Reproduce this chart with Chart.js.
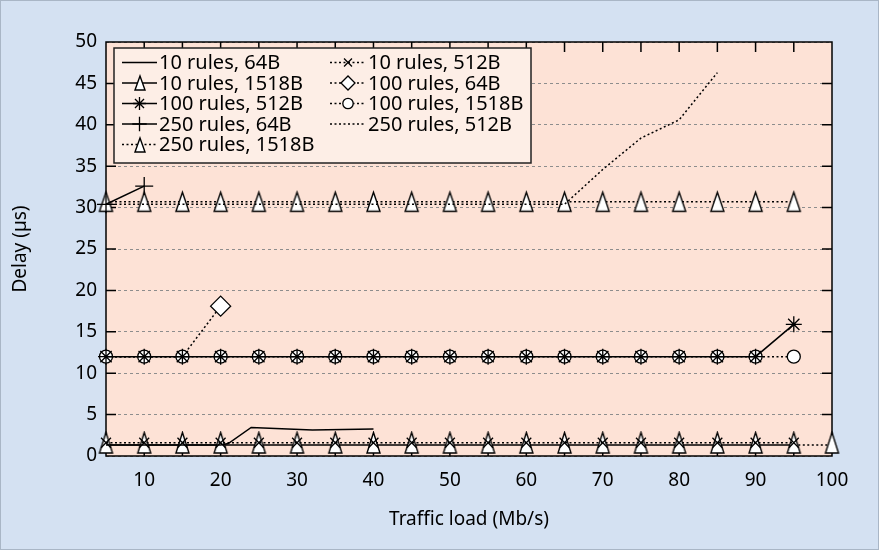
<!DOCTYPE html>
<html>
<head>
<meta charset="utf-8">
<script src="https://cdn.jsdelivr.net/npm/chart.js@4/dist/chart.umd.min.js"></script>
<style>
  html, body { margin: 0; padding: 0; background: #d4e1f2; }
  #wrap { width: 879px; height: 550px; }
</style>
</head>
<body>
<div id="wrap"><canvas id="c" width="879" height="550"></canvas></div>
<script>
// Traffic load (Mb/s) sample points
const loadSteps = [5, 10, 15, 20, 25, 30, 35, 40, 45, 50, 55, 60, 65, 70, 75, 80, 85, 90, 95];
const loadSteps100 = [5, 10, 15, 20, 25, 30, 35, 40, 45, 50, 55, 60, 65, 70, 75, 80, 85, 90, 95, 100];
const load10r64 = [5, 10, 15, 20, 21, 24, 32, 40];
const load100r64 = [5, 10, 15, 20];
const load250r64 = [5, 10];
const load250r512 = [5, 10, 15, 20, 25, 30, 35, 40, 45, 50, 55, 60, 65, 70, 75, 80, 85];

// Delay (µs) per series
const delay10r64 = [1.33, 1.33, 1.33, 1.33, 1.5, 3.45, 3.15, 3.25];
const delay10r512 = [1.6, 1.6, 1.6, 1.6, 1.6, 1.6, 1.6, 1.6, 1.6, 1.6, 1.6, 1.6, 1.6, 1.6, 1.6, 1.6, 1.6, 1.6, 1.6];
const delay10r1518 = [1.33, 1.33, 1.33, 1.33, 1.33, 1.33, 1.33, 1.33, 1.33, 1.33, 1.33, 1.33, 1.33, 1.33, 1.33, 1.33, 1.33, 1.33, 1.33, 1.33];
const delay100r64 = [12.0, 12.0, 12.0, 18.1];
const delay100r512 = [12.0, 12.0, 12.0, 12.0, 12.0, 12.0, 12.0, 12.0, 12.0, 12.0, 12.0, 12.0, 12.0, 12.0, 12.0, 12.0, 12.0, 12.0, 15.9];
const delay100r1518 = [12.0, 12.0, 12.0, 12.0, 12.0, 12.0, 12.0, 12.0, 12.0, 12.0, 12.0, 12.0, 12.0, 12.0, 12.0, 12.0, 12.0, 12.0, 12.0];
const delay250r64 = [30.4, 32.6];
const delay250r512 = [30.4, 30.4, 30.4, 30.4, 30.4, 30.4, 30.4, 30.4, 30.4, 30.4, 30.4, 30.4, 30.4, 34.6, 38.4, 40.6, 46.3];
const delay250r1518 = [30.7, 30.7, 30.7, 30.7, 30.7, 30.7, 30.7, 30.7, 30.7, 30.7, 30.7, 30.7, 30.7, 30.7, 30.7, 30.7, 30.7, 30.7, 30.7];

const seriesNames = [
  '10 rules, 64B', '10 rules, 512B', '10 rules, 1518B',
  '100 rules, 64B', '100 rules, 512B', '100 rules, 1518B',
  '250 rules, 64B', '250 rules, 512B', '250 rules, 1518B'
];
const yTicks = [0, 5, 10, 15, 20, 25, 30, 35, 40, 45, 50];
const xTickLabels = [10, 20, 30, 40, 50, 60, 70, 80, 90, 100];

const FONT = '"Noto Sans", "DejaVu Sans", sans-serif';
const DOTS = [2, 2.5];

function pairs(xs, ys) { return xs.map((x, i) => ({ x: x, y: ys[i] })); }

// Open triangle marker, drawn once and reused as an image point style
function triangleMarker(canvasW, canvasH, apex, base, halfW) {
  const c = document.createElement('canvas');
  c.width = canvasW; c.height = canvasH;
  const g = c.getContext('2d');
  const cx = canvasW / 2;
  g.beginPath();
  g.moveTo(cx, apex);
  g.lineTo(cx + halfW, base);
  g.lineTo(cx - halfW, base);
  g.closePath();
  g.fillStyle = '#ffffff';
  g.fill();
  g.lineWidth = 1.4;
  g.strokeStyle = '#000000';
  g.stroke();
  return c;
}
const triCentered = triangleMarker(17, 24, 2.5, 21.5, 6.5);
const triRaised = triangleMarker(17, 28, 1.5, 22, 6.5);
const triKey = triangleMarker(14, 18, 2, 16, 5);

function series(label, data, opts) {
  return Object.assign({
    label: label,
    data: data,
    borderColor: '#000',
    borderWidth: 1.5,
    tension: 0,
    fill: false,
    clip: false,
    pointRadius: 0,
    pointBackgroundColor: '#fff',
    pointBorderColor: '#000',
    pointBorderWidth: 1.3
  }, opts || {});
}

const datasets = [
  series(seriesNames[0], pairs(load10r64, delay10r64), { pointRadius: 0 }),
  series(seriesNames[1], pairs(loadSteps, delay10r512), { borderDash: DOTS, pointStyle: 'crossRot', pointRadius: 7 }),
  series(seriesNames[2], pairs(loadSteps100, delay10r1518), {
    pointStyle: triRaised, pointRadius: 8, keyMarker: triKey,
    segment: { borderDash: (ctx) => ctx.p1DataIndex === loadSteps100.length - 1 ? DOTS : undefined }
  }),
  series(seriesNames[3], pairs(load100r64, delay100r64), {
    borderDash: DOTS, pointStyle: 'rectRot', order: 10, keyRadius: 7,
    // the diamond only shows where it leaves the shared 12 µs row
    pointRadius: (ctx) => ctx.dataIndex === load100r64.length - 1 ? 10 : 0
  }),
  series(seriesNames[4], pairs(loadSteps, delay100r512), { pointStyle: 'star', pointRadius: 8 }),
  series(seriesNames[5], pairs(loadSteps, delay100r1518), { borderDash: DOTS, pointStyle: 'circle', pointRadius: 6.5 }),
  series(seriesNames[6], pairs(load250r64, delay250r64), { pointStyle: 'cross', pointRadius: 9 }),
  series(seriesNames[7], pairs(load250r512, delay250r512), { borderDash: DOTS, pointRadius: 0 }),
  series(seriesNames[8], pairs(loadSteps, delay250r1518), { borderDash: DOTS, pointStyle: triCentered, pointRadius: 8, keyMarker: triKey })
];

// Backgrounds, plot frame and inward tick marks
const framePlugin = {
  id: 'framePlugin',
  beforeDraw(chart) {
    const { ctx, chartArea: a } = chart;
    ctx.save();
    ctx.fillStyle = '#d4e1f2';
    ctx.fillRect(0, 0, chart.width, chart.height);
    ctx.strokeStyle = '#a9b6c6';
    ctx.lineWidth = 1;
    ctx.strokeRect(0.5, 0.5, chart.width - 1, chart.height - 1);
    ctx.fillStyle = '#fde2d6';
    ctx.fillRect(a.left, a.top, a.right - a.left, a.bottom - a.top);
    ctx.restore();
  },
  beforeDatasetsDraw(chart) {
    const { ctx, chartArea: a, scales } = chart;
    const len = 10;
    ctx.save();
    ctx.strokeStyle = '#000';
    ctx.lineWidth = 1.5;
    ctx.beginPath();
    scales.x.ticks.forEach(t => {
      const px = scales.x.getPixelForValue(t.value);
      if (px <= a.left + 1 || px >= a.right - 1) return;
      ctx.moveTo(px, a.bottom); ctx.lineTo(px, a.bottom - len);
      ctx.moveTo(px, a.top); ctx.lineTo(px, a.top + len);
    });
    scales.y.ticks.forEach(t => {
      const py = scales.y.getPixelForValue(t.value);
      if (py <= a.top + 1 || py >= a.bottom - 1) return;
      ctx.moveTo(a.left, py); ctx.lineTo(a.left + len, py);
      ctx.moveTo(a.right, py); ctx.lineTo(a.right - len, py);
    });
    ctx.stroke();
    ctx.strokeRect(a.left, a.top, a.right - a.left, a.bottom - a.top);
    ctx.restore();
  }
};

// Two-column key with line samples and markers
const keyPlugin = {
  id: 'keyPlugin',
  afterDraw(chart) {
    const ctx = chart.ctx;
    const box = { x: 114, y: 48, w: 417, h: 115 };
    ctx.save();
    ctx.fillStyle = '#fdeee6';
    ctx.fillRect(box.x, box.y, box.w, box.h);
    ctx.strokeStyle = '#222';
    ctx.lineWidth = 1.5;
    ctx.strokeRect(box.x, box.y, box.w, box.h);
    ctx.font = '20px ' + FONT;
    ctx.textBaseline = 'middle';
    ctx.textAlign = 'left';
    chart.data.datasets.forEach((ds, i) => {
      const col = i % 2, row = Math.floor(i / 2);
      const y = 62.5 + row * 20.5;
      const x0 = col ? 330 : 122, x1 = col ? 366 : 157;
      ctx.strokeStyle = '#000';
      ctx.lineWidth = 1.5;
      ctx.setLineDash(ds.borderDash || []);
      ctx.beginPath();
      ctx.moveTo(x0, y); ctx.lineTo(x1, y);
      ctx.stroke();
      ctx.setLineDash([]);
      const cx = (x0 + x1) / 2;
      const marker = ds.keyMarker || ds.pointStyle;
      const radius = ds.keyRadius || (typeof ds.pointRadius === 'number' ? ds.pointRadius * 0.8 : 0);
      if (marker && (typeof marker === 'object' || radius > 0)) {
        if (typeof marker === 'object') {
          ctx.drawImage(marker, Math.round(cx - marker.width / 2), Math.round(y - marker.height / 2));
        } else if (Chart.helpers && Chart.helpers.drawPoint) {
          ctx.fillStyle = '#fff';
          ctx.strokeStyle = '#000';
          ctx.lineWidth = 1.3;
          Chart.helpers.drawPoint(ctx, { pointStyle: marker, radius: radius, rotation: 0, borderWidth: 1.3 }, cx, y);
        }
      }
      ctx.fillStyle = '#000';
      ctx.fillText(ds.label, x1 + 2, y + 1);
    });
    ctx.restore();
  }
};

Chart.defaults.font.family = FONT;
Chart.defaults.font.size = 19;
Chart.defaults.color = '#000';

new Chart(document.getElementById('c'), {
  type: 'line',
  data: { datasets: datasets },
  options: {
    responsive: false,
    animation: false,
    devicePixelRatio: 1,
    layout: { padding: { left: 0, top: 42, right: 47, bottom: 0 } },
    plugins: { legend: { display: false }, tooltip: { enabled: false } },
    scales: {
      x: {
        type: 'linear',
        min: 5,
        max: 100,
        grid: { display: false, drawTicks: false },
        border: { display: false },
        ticks: {
          stepSize: 5,
          autoSkip: false,
          maxRotation: 0,
          padding: 13,
          callback: (v) => xTickLabels.includes(v) ? String(v) : ''
        },
        title: { display: true, text: 'Traffic load (Mb/s)', padding: { top: 0, bottom: 19 } },
        afterFit: (s) => { s.height = 94; }
      },
      y: {
        type: 'linear',
        min: yTicks[0],
        max: yTicks[yTicks.length - 1],
        grid: { color: '#8d8d8d', lineWidth: 1, drawTicks: false },
        border: { display: false, dash: [3, 3] },
        ticks: { stepSize: 5, padding: 9 },
        title: { display: true, text: 'Delay (µs)', padding: { top: 9, bottom: 0 } },
        afterFit: (s) => { s.width = 106; }
      }
    }
  },
  plugins: [framePlugin, keyPlugin]
});
</script>
</body>
</html>
